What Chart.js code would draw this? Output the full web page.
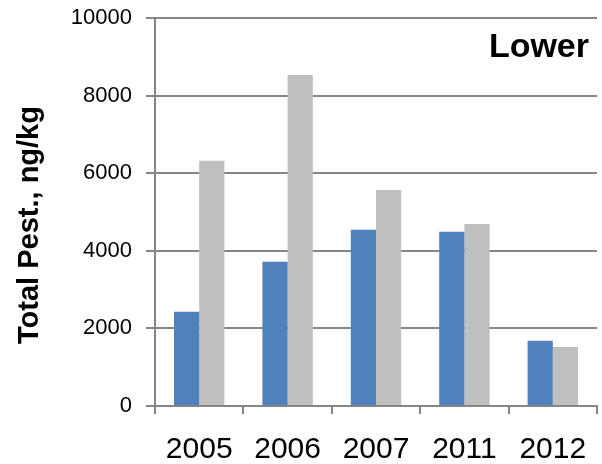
<!DOCTYPE html>
<html>
<head>
<meta charset="utf-8">
<script src="https://cdn.jsdelivr.net/npm/chart.js@4"></script>
<style>
  html, body { margin: 0; padding: 0; background: #fff; }
  #wrap { width: 602px; height: 464px; }
</style>
</head>
<body>
<div id="wrap"><canvas id="myChart" width="602" height="464"></canvas></div>
<script>
// datos
const years = ['2005', '2006', '2007', '2011', '2012'];
const serieAzul = [2430, 3720, 4540, 4490, 1680];
const serieGris = [6320, 8530, 5570, 4690, 1520];
const yTicks = [0, 2000, 4000, 6000, 8000, 10000];
const yTitle = 'Total Pest., ng/kg';
const panelLabel = 'Lower';

const gridColor = '#868686';
const fontName = '"Liberation Sans", Arial, sans-serif';

// textos extra: titulo del eje y y la etiqueta del panel
const textos = {
    id: 'textos',
    afterDraw(chart) {
        const c = chart.ctx;
        c.save();
        c.fillStyle = '#000';
        c.font = 'bold 34px ' + fontName;
        c.textAlign = 'right';
        c.textBaseline = 'alphabetic';
        c.fillText(panelLabel, 589, 57);

        c.translate(38, 225);
        c.rotate(-Math.PI / 2);
        c.font = 'bold 29px ' + fontName;
        c.textAlign = 'center';
        c.fillText(yTitle, 0, 0);
        c.restore();
    }
};

const ctx = document.getElementById('myChart');
new Chart(ctx, {
    type: 'bar',
    data: {
        labels: years,
        datasets: [{
            label: 'Serie 1',
            data: serieAzul,
            backgroundColor: '#4F81BD',
            categoryPercentage: 0.57,
            barPercentage: 1.0
        }, {
            label: 'Serie 2',
            data: serieGris,
            backgroundColor: '#BFBFBF',
            categoryPercentage: 0.57,
            barPercentage: 1.0
        }]
    },
    options: {
        responsive: false,
        animation: false,
        layout: { padding: { top: 18, right: 5, left: 0, bottom: 0 } },
        plugins: {
            legend: { display: false },
            tooltip: { enabled: false }
        },
        scales: {
            x: {
                grid: { drawOnChartArea: false, drawTicks: true, tickLength: 8, color: gridColor, lineWidth: 2, offset: true },
                border: { display: true, color: gridColor, width: 2 },
                ticks: { color: '#000', font: { family: fontName, size: 30 }, padding: 18 },
                afterFit(scale) { scale.height = 58; scale.paddingLeft = 0; scale.paddingRight = 0; }
            },
            y: {
                min: 0,
                max: 10000,
                afterBuildTicks(scale) { scale.ticks = yTicks.map(v => ({ value: v })); },
                grid: { color: gridColor, lineWidth: 2, tickLength: 9 },
                border: { display: true, color: gridColor, width: 2 },
                ticks: { color: '#000', font: { family: fontName, size: 22 }, padding: 14, callback: v => String(v) },
                afterFit(scale) { scale.width = 155; scale.paddingTop = 0; scale.paddingBottom = 0; }
            }
        }
    },
    plugins: [textos]
});
</script>
</body>
</html>
